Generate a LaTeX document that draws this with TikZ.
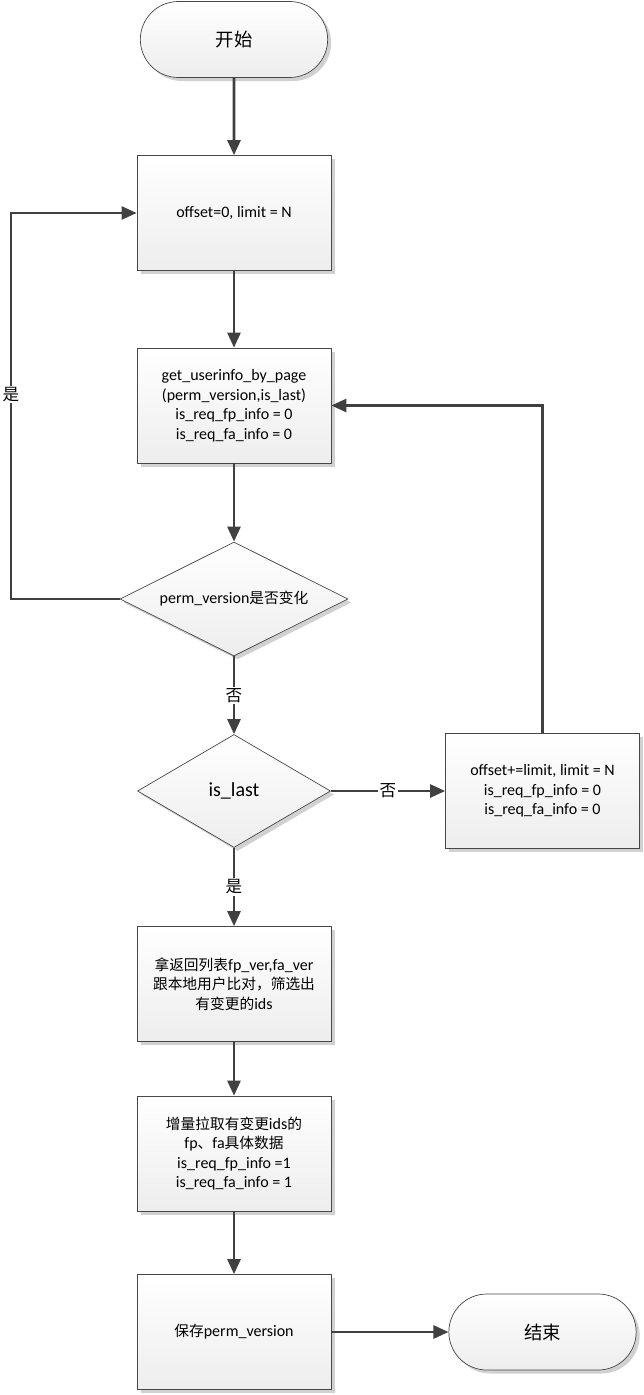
\documentclass[tikz,border=0pt]{standalone}
\usepackage{fontspec}
\setmainfont{Carlito}
\newfontfamily\cjk{Noto Sans CJK SC}[Scale=0.92]
\usetikzlibrary{shapes.geometric,shapes.misc,arrows.meta,shadows}
\begin{document}
\begin{tikzpicture}[x=1pt,y=-1pt,
 base/.style={draw=black!72, line width=0.7pt, top color=white, bottom color=black!7,
   align=center, font=\fontsize{16}{19.5}\selectfont,
   drop shadow={shadow xshift=3.5pt,shadow yshift=-3.5pt,fill=black!18,opacity=1}},
 proc/.style={base, rectangle, minimum width=194pt, minimum height=115pt, inner sep=2pt},
 term/.style={base, rounded rectangle, minimum width=194pt, minimum height=76pt,
   font=\fontsize{20}{22}\selectfont\cjk},
 dec/.style={base, diamond, inner sep=0pt, shape aspect=2},
 flow/.style={draw=black!75, line width=2.6pt, -{Triangle[length=15pt,width=13pt]}},
 lbl/.style={fill=white, inner sep=1.5pt, font=\fontsize{18}{20}\selectfont\cjk}
]
\useasboundingbox (0,0) rectangle (644,1395);
\node[term] (start) at (234,39.5) {开始};
\node[proc] (b1) at (234,213) {offset=0, limit = N};
\node[proc] (b2) at (234,405.5) {get\_userinfo\_by\_page\\(perm\_version,is\_last)\\is\_req\_fp\_info = 0\\is\_req\_fa\_info = 0};
\node[dec, minimum width=228pt, minimum height=114pt] (d1) at (234,599) {perm\_version{\cjk 是否变化}};
\node[dec, minimum width=193pt, minimum height=113pt, font=\fontsize{20}{22}\selectfont] (d2) at (234,791) {is\_last};
\node[proc] (r) at (542.5,791) {offset+=limit, limit = N\\is\_req\_fp\_info = 0\\is\_req\_fa\_info = 0};
\node[proc] (b3) at (234,984) {{\cjk 拿返回列表}fp\_ver,fa\_ver\\{\cjk 跟本地用户比对，筛选出}\\{\cjk 有变更的}ids};
\node[proc] (b4) at (234,1153.5) {{\cjk 增量拉取有变更}ids{\cjk 的}\\fp{\cjk 、}fa{\cjk 具体数据}\\is\_req\_fp\_info =1\\is\_req\_fa\_info = 1};
\node[proc] (b5) at (234,1332) {{\cjk 保存}perm\_version};
\node[term] (end) at (542.5,1332) {结束};
\coordinate (lc) at (11,599);
\coordinate (lt) at (11,213);
\draw[flow] (start) -- (b1);
\draw[flow] (b1) -- (b2);
\draw[flow] (b2) -- (d1);
\draw[flow] (d1) -- node[lbl]{否} (d2);
\draw[flow] (d2) -- node[lbl]{是} (b3);
\draw[flow] (b3) -- (b4);
\draw[flow] (b4) -- (b5);
\draw[flow] (b5) -- (end);
\draw[flow] (d2) -- node[lbl]{否} (r);
\draw[flow] (r.north) |- (b2.east);
\draw[flow] (d1.west) -- (lc) -- node[lbl,pos=0.53]{是} (lt) -- (b1.west);
\end{tikzpicture}
\end{document}
